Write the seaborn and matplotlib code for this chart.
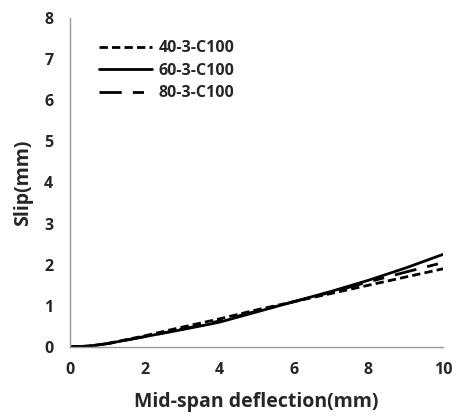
import matplotlib
matplotlib.use("Agg")
import matplotlib.pyplot as plt
import seaborn as sns
import pandas as pd

deflection = [0, 0.5, 1, 2, 3, 4, 5, 6, 7, 8, 9, 10]
slip_40 = [0, 0.02, 0.08, 0.27, 0.48, 0.68, 0.90, 1.10, 1.30, 1.50, 1.70, 1.90]
slip_60 = [0, 0.02, 0.08, 0.25, 0.42, 0.60, 0.85, 1.10, 1.35, 1.62, 1.92, 2.25]
slip_80 = [0, 0.02, 0.08, 0.25, 0.43, 0.63, 0.87, 1.10, 1.33, 1.58, 1.82, 2.05]
labels = ["40-3-C100", "60-3-C100", "80-3-C100"]
x_ticks = [0, 2, 4, 6, 8, 10]
y_ticks = [0, 1, 2, 3, 4, 5, 6, 7, 8]

sns.set_theme(style="white")
plt.rcParams['font.family'] = ['Open Sans', 'DejaVu Sans']

df = pd.DataFrame({
    "x": deflection * 3,
    "y": slip_40 + slip_60 + slip_80,
    "s": [labels[0]] * len(deflection) + [labels[1]] * len(deflection) + [labels[2]] * len(deflection),
})

fig = plt.figure(figsize=(4.6, 4.16), dpi=100)
ax = fig.add_axes([0.152, 0.166, 0.811, 0.791])
styles = {labels[0]: (0, (3, 1.5)), labels[1]: "-", labels[2]: (0, (8, 4, 4, 4))}
for lab in labels:
    sub = df[df.s == lab]
    sns.lineplot(data=sub, x="x", y="y", ax=ax, color="black", lw=2,
                 linestyle=styles[lab], label=lab)

ax.set_xlim(0, 10)
ax.set_ylim(0, 8)
ax.set_xticks(x_ticks)
ax.set_yticks(y_ticks)
ax.tick_params(axis="x", length=0, labelsize=11.5, pad=11)
ax.tick_params(axis="y", length=0, labelsize=11.5, pad=12)
for t in ax.get_xticklabels() + ax.get_yticklabels():
    t.set_fontweight("bold")
ax.set_xlabel("Mid-span deflection(mm)", fontsize=14, fontweight="bold", labelpad=10)
ax.set_ylabel("Slip(mm)", fontsize=14, fontweight="bold", labelpad=8)
for sp in ["top", "right"]:
    ax.spines[sp].set_visible(False)
for sp in ["left", "bottom"]:
    ax.spines[sp].set_color("#999999")
    ax.spines[sp].set_linewidth(1)
leg = ax.legend(loc="upper left", bbox_to_anchor=(0.04, 0.975), frameon=False,
                prop={"weight": "bold", "size": 11.5}, handlelength=3.3,
                labelspacing=0.4, handletextpad=0.4)
fig.savefig("out.png", dpi=100)
